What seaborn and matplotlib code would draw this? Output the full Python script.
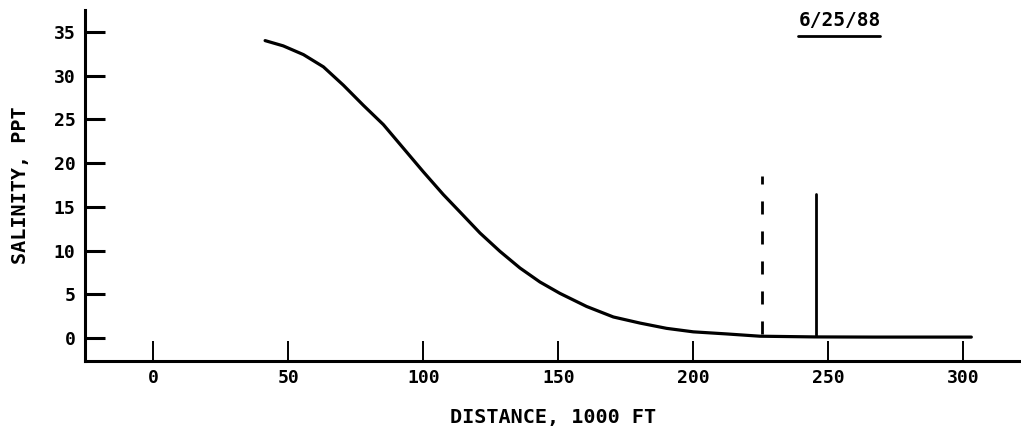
"""
Salinity profile along the channel, 6/25/88.
"""

import numpy as np
import pandas as pd
import matplotlib
matplotlib.use("Agg")
import matplotlib.pyplot as plt
import seaborn as sns

# salinity curve (distance in 1000 ft, salinity in ppt)
distance = [41.4, 48.1, 55.6, 63.0, 70.4, 77.8, 85.2, 92.6, 100.0, 107.4, 113.6, 121.0,
            128.4, 135.8, 143.2, 150.6, 160.5, 170.4, 180.3, 190.1, 200.0, 212.4, 224.7,
            245.0, 267.0, 285.0, 303.0]
salinity = [34.0, 33.4, 32.4, 31.0, 28.9, 26.6, 24.4, 21.7, 19.0, 16.4, 14.4, 12.0,
            9.9, 8.0, 6.4, 5.1, 3.6, 2.4, 1.7, 1.1, 0.7, 0.46, 0.2,
            0.12, 0.1, 0.1, 0.1]

# the two vertical markers (dashed, solid)
marker_x = [225.3, 245.6]
marker_top = [18.5, 16.5]
marker_bottom = [0.4, 0.3]
marker_styles = [(0, (4.7, 6.1)), "-"]

x_ticks = [0, 50, 100, 150, 200, 250, 300]
y_ticks = [0, 5, 10, 15, 20, 25, 30, 35]

date_label = "6/25/88"
date_pos = (254.3, 36.3)
underline_x = [238.8, 269.1]
underline_y = [34.5, 34.5]

sns.set_style("ticks")
plt.rcParams.update({
    "font.family": "DejaVu Sans Mono",
    "font.weight": "bold",
    "axes.linewidth": 2.2,
    "text.color": "black",
    "axes.labelcolor": "black",
    "axes.edgecolor": "black",
    "xtick.color": "black",
    "ytick.color": "black",
})

fig = plt.figure(figsize=(10.21, 4.37), dpi=100)
ax = fig.add_axes([0.0833, 0.1746, 0.9167, 0.8025])

df = pd.DataFrame({"distance": distance, "salinity": salinity})
sns.lineplot(data=df, x="distance", y="salinity", sort=False,
             color="black", linewidth=2.3, ax=ax)

for x, top, bot, ls in zip(marker_x, marker_top, marker_bottom, marker_styles):
    ax.plot([x, x], [bot, top], color="black", linewidth=2.0, linestyle=ls)

ax.text(date_pos[0], date_pos[1], date_label, ha="center", va="center",
        fontsize=14, fontweight="bold")
ax.plot(underline_x, underline_y, color="black", linewidth=2.0)

ax.set_xlim(-25.3, 321.4)
ax.set_ylim(-2.6, 37.5)
ax.set_xticks(x_ticks)
ax.set_yticks(y_ticks)
ax.tick_params(axis="x", direction="in", length=14.5, width=1.4, pad=6, labelsize=13)
ax.tick_params(axis="y", direction="in", length=14.5, width=2.2, pad=7, labelsize=13)
for lab in ax.get_xticklabels() + ax.get_yticklabels():
    lab.set_fontweight("bold")

ax.set_xlabel("DISTANCE, 1000 FT", fontsize=14.5, fontweight="bold", labelpad=15)
ax.set_ylabel("SALINITY, PPT", fontsize=14.5, fontweight="bold", labelpad=17)
sns.despine(ax=ax)

fig.savefig("out.png", dpi=100)
